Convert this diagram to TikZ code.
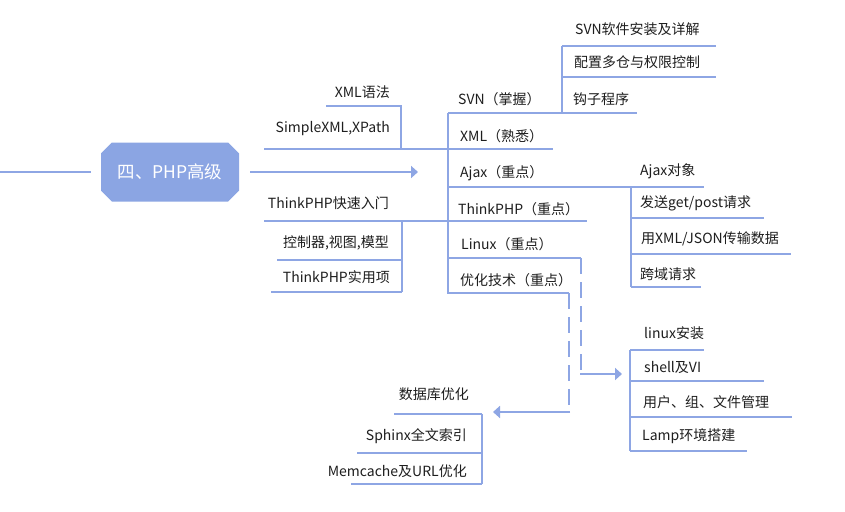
\documentclass[tikz,border=0pt]{standalone}
\usepackage{fontspec}
\newfontfamily\cjk{Noto Sans CJK SC}
\usetikzlibrary{arrows.meta,shapes.misc}
\definecolor{lc}{RGB}{142,166,228}
\definecolor{nodefill}{RGB}{139,165,227}
\definecolor{txt}{RGB}{30,30,30}
\tikzset{
  ln/.style={draw=lc,line width=2pt},
  dsh/.style={draw=lc,line width=2pt,dash pattern=on 16pt off 8pt},
  arr/.style={-{Triangle[length=7pt,width=12pt]}},
  rt/.style={anchor=west,inner sep=0pt,font=\cjk\fontsize{14}{16}\selectfont,text=txt},
  lt/.style={anchor=east,inner sep=0pt,font=\cjk\fontsize{14}{16}\selectfont,text=txt},
  mainbox/.style={chamfered rectangle,chamfered rectangle xsep=8pt,fill=nodefill,
    minimum width=138pt,minimum height=59pt,inner sep=0pt,text=white,
    font=\cjk\fontsize{17.5}{20}\selectfont}
}
\begin{document}
\begin{tikzpicture}[x=1pt,y=-1pt]
\useasboundingbox[fill=white] (0,0) rectangle (845,511);
% central node
\node[mainbox] (main) at (170,172) {四、PHP高级};
\coordinate (lstart) at (0,172);
\draw[ln] (lstart) -- (91,172);
\coordinate (arrtip) at (418,172);
\draw[ln,arr] (250,172) -- (arrtip);
% trunk
\coordinate (trtop) at (448,113);
\coordinate (trbot) at (448,294);
\draw[ln] (trtop) -- (trbot);
% left upper group
\coordinate (luA) at (264,149);
\coordinate (luB) at (448,149);
\draw[ln] (luA) -- (luB);
\draw[ln] (326,106) -- (401,106) -- (401,149);
\node[lt] (xmlgram) at (390,92) {XML语法};
\node[lt] (simplexml) at (390,129) {SimpleXML,XPath};
% left lower group
\draw[ln] (264,221) -- (448,221);
\draw[ln] (402,221) -- (402,292);
\draw[ln] (277,260) -- (402,260);
\draw[ln] (271,292) -- (402,292);
\node[lt] (tpquick) at (389,203) {ThinkPHP快速入门};
\node[lt] (tpmvc) at (389,243) {控制器,视图,模型};
\node[lt] (tpuse) at (390,277) {ThinkPHP实用项};
% right branches
\node[rt] (svn) at (458,99) {SVN（掌握）};
\draw[ln] (448,113) -- (637,113);
\node[rt] (xml) at (460,136) {XML（熟悉）};
\draw[ln] (448,149) -- (553,149);
\node[rt] (ajax) at (460,173) {Ajax（重点）};
\draw[ln] (448,187) -- (704,187);
\node[rt] (tp) at (458,209) {ThinkPHP（重点）};
\draw[ln] (448,221) -- (587,221);
\node[rt] (linux) at (461,244) {Linux（重点）};
\node[rt] (opt) at (460,280) {优化技术（重点）};
% SVN children
\draw[ln] (562,113) -- (562,46);
\draw[ln] (562,46) -- (716,46);
\draw[ln] (562,77) -- (716,77);
\node[rt] (svn1) at (575,29) {SVN软件安装及详解};
\node[rt] (svn2) at (574,62) {配置多仓与权限控制};
\node[rt] (svn3) at (573,99) {钩子程序};
% Ajax children
\draw[ln] (631,187) -- (631,287);
\draw[ln] (631,218) -- (764,218);
\draw[ln] (631,254) -- (791,254);
\draw[ln] (631,287) -- (701,287);
\node[rt] (aj1) at (640,171) {Ajax对象};
\node[rt] (aj2) at (640,203) {发送get/post请求};
\node[rt] (aj3) at (641,239) {用XML/JSON传输数据};
\node[rt] (aj4) at (640,274) {跨域请求};
% Linux dashed link
\draw[ln] (448,258) -- (581,258);
\coordinate (lxtip) at (622,374);
\draw[dsh] (581,258) -- (581,374);
\draw[ln,arr] (580,374) -- (lxtip);
% Linux children
\draw[ln] (630,350) -- (630,451);
\draw[ln] (630,350) -- (704,350);
\draw[ln] (630,381) -- (764,381);
\draw[ln] (630,417) -- (792,417);
\draw[ln] (630,451) -- (747,451);
\node[rt] (lx1) at (644,333) {linux安装};
\node[rt] (lx2) at (644,367) {shell及VI};
\node[rt] (lx3) at (643,402) {用户、组、文件管理};
\node[rt] (lx4) at (642,436) {Lamp环境搭建};
% Optimisation dashed link
\draw[ln] (448,293) -- (569,293);
\coordinate (optip) at (493,412);
\draw[dsh] (569,293) -- (569,412);
\draw[ln,arr] (570,412) -- (optip);
% Optimisation children
\draw[ln] (482,414) -- (482,484);
\draw[ln] (394,414) -- (482,414);
\draw[ln] (357,453) -- (482,453);
\draw[ln] (351,484) -- (482,484);
\node[lt] (op1) at (469,394) {数据库优化};
\node[lt] (op2) at (467,436) {Sphinx全文索引};
\node[lt] (op3) at (467,471) {Memcache及URL优化};
\end{tikzpicture}
\end{document}
